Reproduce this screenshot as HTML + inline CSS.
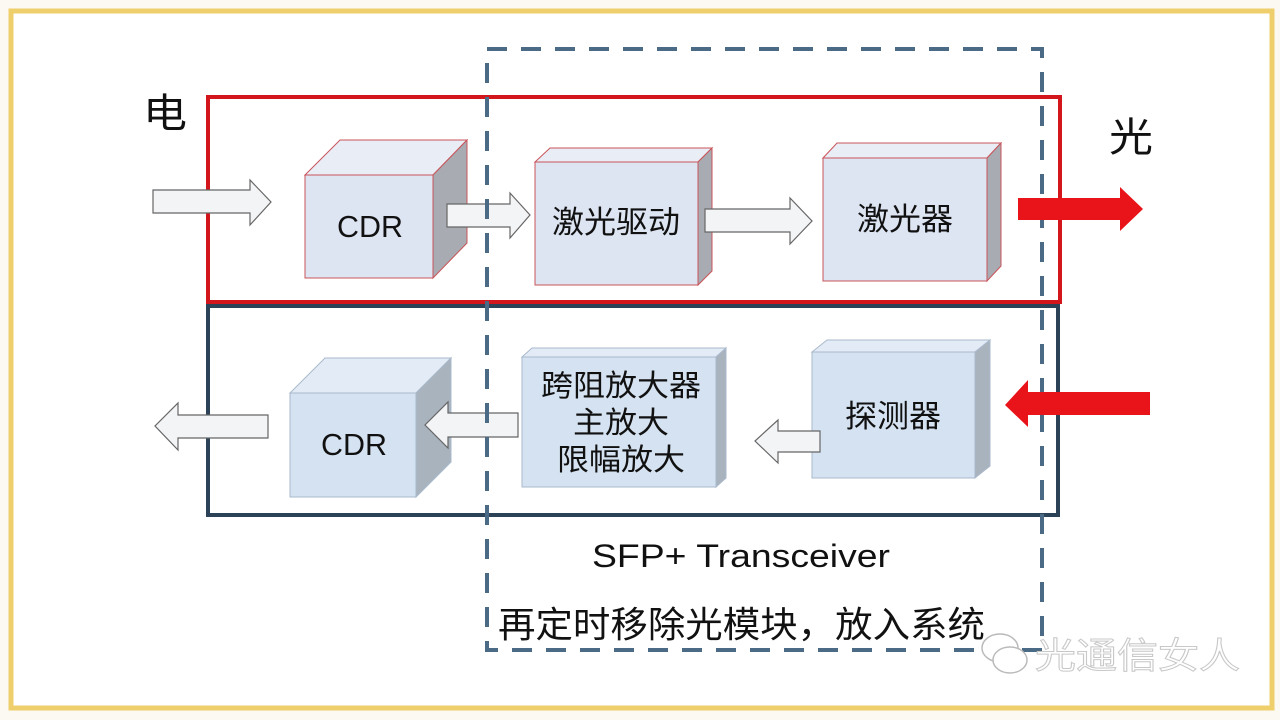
<!DOCTYPE html>
<html><head><meta charset="utf-8"><style>
html,body{margin:0;padding:0;background:#fbf9f2}
svg{display:block}
text{font-family:"Liberation Sans","Noto Sans CJK SC",sans-serif;fill:#111}
</style></head><body>
<svg width="1280" height="720" viewBox="0 0 1280 720" xmlns="http://www.w3.org/2000/svg">
<rect x="0" y="0" width="1280" height="720" fill="#fbf9f2"/>
<rect x="11" y="11" width="1261" height="697" fill="#fff" stroke="#efcf6c" stroke-width="5"/>

<rect x="208" y="97" width="852" height="205" fill="none" stroke="#d3161b" stroke-width="4"/>
<rect x="208" y="306" width="850" height="209" fill="none" stroke="#2b4257" stroke-width="4"/>

<g stroke-width="1">
<polygon points="305,175 340,140 467,140 433,175" fill="#e9edf6" stroke="#c9545a"/>
<polygon points="433,175 467,140 467,243 433,278" fill="#a8abb1" stroke="#c9545a"/>
<rect x="305" y="175" width="128" height="103" fill="#dde4f2" stroke="#c9545a"/>
<polygon points="535,162 550,148 712,148 698,162" fill="#e9edf6" stroke="#c9545a"/>
<polygon points="698,162 712,148 712,271 698,285" fill="#a8abb1" stroke="#c9545a"/>
<rect x="535" y="162" width="163" height="123" fill="#dde4f2" stroke="#c9545a"/>
<polygon points="823,158 837,143 1001,143 987,158" fill="#e9edf6" stroke="#c9545a"/>
<polygon points="987,158 1001,143 1001,266 987,281" fill="#a8abb1" stroke="#c9545a"/>
<rect x="823" y="158" width="164" height="123" fill="#dde4f2" stroke="#c9545a"/>
<polygon points="290,393 325,358 451,358 416,393" fill="#e2ebf6" stroke="#a9b9cc"/>
<polygon points="416,393 451,358 451,462 416,497" fill="#a9b3be" stroke="#a9b9cc"/>
<rect x="290" y="393" width="126" height="104" fill="#d5e2f1" stroke="#a9b9cc"/>
<polygon points="522,357 532,348 726,348 716,357" fill="#e2ebf6" stroke="#a9b9cc"/>
<polygon points="716,357 726,348 726,478 716,487" fill="#a9b3be" stroke="#a9b9cc"/>
<rect x="522" y="357" width="194" height="130" fill="#d5e2f1" stroke="#a9b9cc"/>
<polygon points="812,352 827,340 990,340 975,352" fill="#e2ebf6" stroke="#a9b9cc"/>
<polygon points="975,352 990,340 990,466 975,478" fill="#a9b3be" stroke="#a9b9cc"/>
<rect x="812" y="352" width="163" height="126" fill="#d5e2f1" stroke="#a9b9cc"/>
</g>

<g fill="#f3f4f6" stroke="#666" stroke-width="1.2">
<polygon points="153,190 250,190 250,180 271,202 250,225 250,213 153,213"/>
<polygon points="447,204 510,204 510,193 530,215 510,238 510,227 447,227"/>
<polygon points="705,209 790,209 790,198 812,221 790,244 790,232 705,232"/>
<polygon points="820,431 778,431 778,420 755,441 778,463 778,452 820,452"/>
<polygon points="518,413 448,413 448,402 425,425 448,448 448,437 518,437"/>
<polygon points="268,415 178,415 178,403 155,426 178,450 178,438 268,438"/>
</g>

<rect x="487" y="49" width="555" height="601" fill="none" stroke="#4b6a85" stroke-width="4" stroke-dasharray="20,14"/>

<g fill="#e8141a">
<polygon points="1018,198 1120,198 1120,187 1143,209 1120,231 1120,220 1018,220"/>
<polygon points="1150,392 1028,392 1028,380 1005,405 1028,427 1028,415 1150,415"/>
</g>

<text x="143" y="127" font-size="40" textLength="44" lengthAdjust="spacingAndGlyphs">电</text>
<text x="1109" y="151" font-size="40" textLength="44" lengthAdjust="spacingAndGlyphs">光</text>
<text x="337" y="237" font-size="31" textLength="66" lengthAdjust="spacingAndGlyphs">CDR</text>
<text x="552" y="233" font-size="31" textLength="128" lengthAdjust="spacingAndGlyphs">激光驱动</text>
<text x="857" y="230" font-size="31" textLength="96" lengthAdjust="spacingAndGlyphs">激光器</text>
<text x="321" y="455" font-size="31" textLength="66" lengthAdjust="spacingAndGlyphs">CDR</text>
<text x="541" y="396" font-size="30" textLength="160" lengthAdjust="spacingAndGlyphs">跨阻放大器</text>
<text x="573" y="433" font-size="30" textLength="96" lengthAdjust="spacingAndGlyphs">主放大</text>
<text x="557" y="470" font-size="30" textLength="128" lengthAdjust="spacingAndGlyphs">限幅放大</text>
<text x="845" y="427" font-size="31" textLength="96" lengthAdjust="spacingAndGlyphs">探测器</text>
<text x="592" y="567" font-size="32" textLength="298" lengthAdjust="spacingAndGlyphs">SFP+ Transceiver</text>
<text x="498" y="637" font-size="36" textLength="487" lengthAdjust="spacingAndGlyphs">再定时移除光模块，放入系统</text>

<g fill="#fff" stroke="#bbb" stroke-width="1.5">
<ellipse cx="1000" cy="648" rx="18" ry="14"/>
<ellipse cx="1010" cy="660" rx="17" ry="13"/>
</g>
<text x="1035" y="668" font-size="36" textLength="205" lengthAdjust="spacingAndGlyphs" style="fill:#fff" stroke="#c8c8c8" stroke-width="1">光通信女人</text>
</svg>
</body></html>
